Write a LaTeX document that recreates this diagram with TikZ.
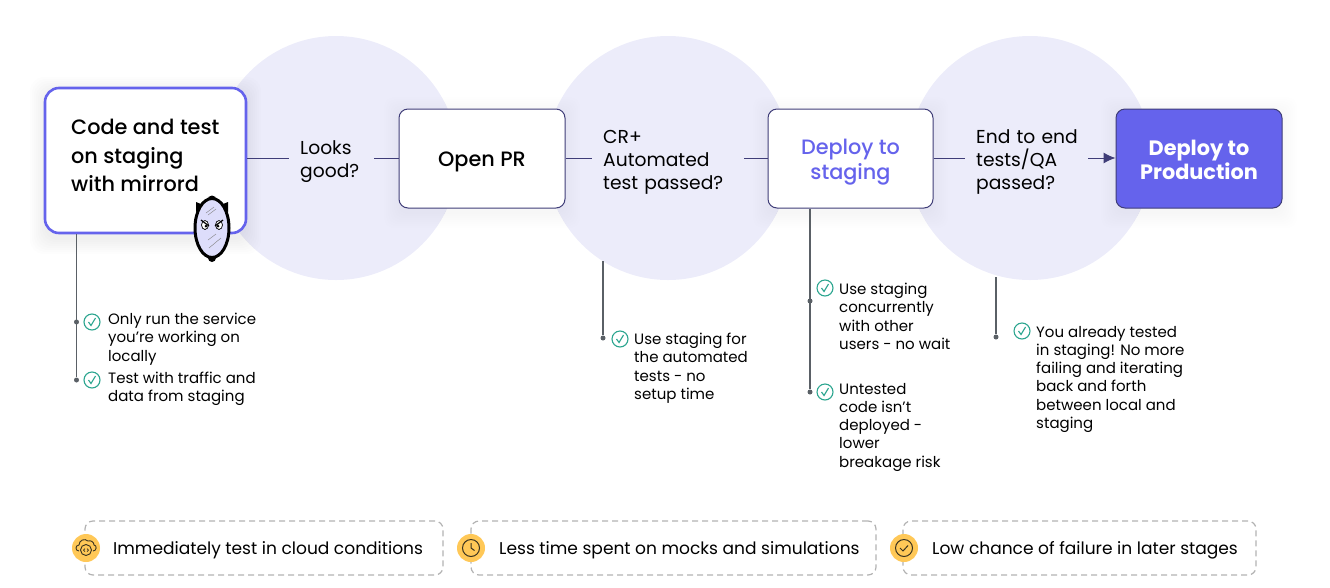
\documentclass[tikz,border=0pt]{standalone}
\usepackage{fontspec}
\setmainfont{Poppins}
\newfontfamily\medfont{Poppins Medium}
\usepackage{tikz}
\usetikzlibrary{arrows.meta, positioning}
\definecolor{blob}{HTML}{ECECFA}
\definecolor{violet}{HTML}{6563EC}
\definecolor{wire}{HTML}{3F3D78}
\definecolor{stem}{HTML}{5A6066}
\definecolor{teal}{HTML}{2BA58F}
\definecolor{amber}{HTML}{FFC857}
\definecolor{ink}{HTML}{3A3320}
\tikzset{
    stagebox/.style={draw=wire, line width=1pt, fill=white, rounded corners=9pt, inner sep=0pt},
    stagetext/.style={align=center, inner sep=0pt, font=\medfont\fontsize{20.8}{25}\selectfont},
    question/.style={anchor=west, align=left, inner xsep=11pt, inner ysep=0pt, font=\fontsize{18.7}{23}\selectfont},
    perk/.style={anchor=north west, align=left, inner sep=0pt, font=\fontsize{15}{18.2}\selectfont},
    stemdot/.style={circle, fill=stem, inner sep=0pt, minimum size=5pt},
    tick/.style={circle, draw=teal, line width=1.1pt, fill=white, inner sep=0pt, minimum size=16pt},
    gain/.style={draw=black!30, line width=1.2pt, dash pattern=on 6pt off 4pt, rounded corners=8pt, inner sep=0pt},
    gainicon/.style={circle, fill=amber, inner sep=0pt, minimum size=28pt},
    gaintext/.style={anchor=west, inner sep=0pt, font=\fontsize{17.05}{21}\selectfont}
}
\begin{document}
\begin{tikzpicture}[x=1pt, y=-1pt]
    \useasboundingbox (0, 0) rectangle (1330, 587);
    % Circles behind the questions
    \foreach \cx in {336, 668, 1030}
        \fill [blob] (\cx, 158) circle (122);
    % Soft shadows
    \foreach \grow in {1, 3, ..., 15} {
        \fill [black, opacity=0.006, rounded corners=14pt] (45-\grow, 92-\grow) rectangle (246+\grow, 239+\grow);
        \fill [black, opacity=0.004, rounded corners=10pt] (399-\grow, 112-\grow) rectangle (565+\grow, 213+\grow);
        \fill [black, opacity=0.004, rounded corners=10pt] (768-\grow, 112-\grow) rectangle (933+\grow, 213+\grow);
        \fill [black, opacity=0.004, rounded corners=10pt] (1116-\grow, 112-\grow) rectangle (1282+\grow, 213+\grow);
    }
    % Stage boxes
    \node [stagebox, draw=violet, line width=2.6pt, rounded corners=14pt, minimum width=201pt, minimum height=145pt] (code) at (145.5, 160.5) {};
    \node [anchor=north west, align=left, inner sep=0pt, font=\medfont\fontsize{20.8}{28.7}\selectfont] (codetext) at (71, 119) {Code and test\\on staging\\with mirrord};
    \node [stagebox, minimum width=166pt, minimum height=99pt] (open) at (482, 158.5) {};
    \node [stagebox, minimum width=165pt, minimum height=99pt] (staging) at (850.5, 158.5) {};
    \node [stagebox, fill=violet, minimum width=166pt, minimum height=99pt] (prod) at (1199, 158.5) {};
    \node [stagetext] (opentext) at (482, 162) {Open PR};
    \node [stagetext, text=violet] (stagingtext) at (850.5, 162) {Deploy to\\staging};
    \node [stagetext, text=white, font=\bfseries\fontsize{20.8}{24}\selectfont] (prodtext) at (1199, 159.5) {Deploy to\\Production};
    % Questions
    \node [question, text width=63pt] (good) at (289, 162) {Looks\\good?};
    \node [question, text width=130pt] (passed) at (592, 162) {CR+\\Automated\\test passed?};
    \node [question, text width=101pt] (qa) at (965, 162) {End~to~end\\tests/QA\\passed?};
    % Lines between the stages
    \draw [wire, line width=1pt] ([yshift=4pt]good.west -| code.east) -- ([yshift=4pt]good.west);
    \draw [wire, line width=1pt] ([yshift=4pt]good.east) -- ([yshift=4pt]good.east -| open.west);
    \draw [wire, line width=1pt] ([yshift=4pt]passed.west -| open.east) -- ([yshift=4pt]passed.west);
    \draw [wire, line width=1pt] ([yshift=4pt]passed.east) -- ([yshift=4pt]passed.east -| staging.west);
    \draw [wire, line width=1pt] ([yshift=4pt]qa.west -| staging.east) -- ([yshift=4pt]qa.west);
    \draw [wire, line width=1pt, -{Latex[length=12pt, width=11pt]}] ([yshift=4pt]qa.east) -- ([yshift=4pt]qa.east -| prod.west);
    % Stems and dots
    \node [stemdot] (dota) at (76.5, 322) {};
    \node [stemdot] (dotb) at (76.5, 380) {};
    \node [stemdot] (dotc) at (603, 338) {};
    \node [stemdot] (dotd) at (810, 301) {};
    \node [stemdot] (dote) at (810, 392) {};
    \node [stemdot] (dotf) at (996, 337) {};
    \coordinate (topc) at (603, 261);
    \coordinate (topf) at (996, 277);
    \draw [stem, line width=1.2pt] (dota |- code.south) -- (dotb);
    \draw [stem, line width=1.2pt] (topc) -- (dotc);
    \draw [stem, line width=1.2pt] (dotd |- staging.south) -- (dote);
    \draw [stem, line width=1.2pt] (topf) -- (dotf);
    % Ticks
    \foreach \tx/\ty in {92/322, 92/380, 620/339, 825/288, 825/392, 1022/331} {
        \node [tick] at (\tx, \ty) {};
        \draw [teal, line width=1.1pt] (\tx-3.5, \ty) -- (\tx-1, \ty+3.5) -- (\tx+3.5, \ty-4);
    }
    % Benefit texts
    \node [perk] (perka) at (108, 313) {Only run the service\\you’re working on\\locally};
    \node [perk] (perkb) at (108, 372) {Test with traffic and\\data from staging};
    \node [perk] (perkc) at (634, 333) {Use staging for\\the automated\\tests - no\\setup time};
    \node [perk] (perkd) at (839, 283) {Use staging\\concurrently\\with other\\users - no wait};
    \node [perk] (perke) at (839, 383) {Untested\\code isn’t\\deployed -\\lower\\breakage risk};
    \node [perk] (perkf) at (1036, 326) {You already tested\\in staging! No more\\failing and iterating\\back and forth\\between local and\\staging};
    % Mirror
    \fill [black] (212, 200) circle (4.5);
    \fill [black] (212, 258) circle (4);
    \fill [black] (196, 202) -- (196, 212) -- (206, 206) -- cycle;
    \fill [black] (228, 202) -- (228, 212) -- (218, 206) -- cycle;
    \draw [black, fill=violet!22, line width=3pt] (212, 228) ellipse (17 and 29.5);
    \draw [black, fill=white, line width=0.7pt] (205, 225) ellipse (3.5 and 4.5);
    \draw [black, fill=white, line width=0.7pt] (219, 225) ellipse (3.5 and 4.5);
    \fill [black] (206, 226) circle (1.5);
    \fill [black] (218, 226) circle (1.5);
    \draw [black, line width=1.2pt] (201, 220) -- (209, 226);
    \draw [black, line width=1.2pt] (223, 220) -- (215, 226);
    \draw [black!50, line width=0.4pt] (206, 213) -- (214, 207);
    \draw [black!50, line width=0.4pt] (208, 215) -- (216, 209);
    \draw [black!50, line width=0.4pt] (208, 240) -- (216, 234);
    \draw [black!50, line width=0.4pt] (209, 248) -- (221, 238);
    % Bottom row
    \node [gain, minimum width=358pt, minimum height=54pt] (gaina) at (264, 548) {};
    \node [gain, minimum width=405pt, minimum height=54pt] (gainb) at (673.5, 548) {};
    \node [gain, minimum width=353pt, minimum height=54pt] (gainc) at (1079.5, 548) {};
    \node [gainicon] (cloud) at (86, 548) {};
    \node [gainicon] (clock) at (471, 548) {};
    \node [gainicon] (done) at (904, 548) {};
    \node [gaintext] (gaintexta) at (113, 550) {Immediately test in cloud conditions};
    \node [gaintext] (gaintextb) at (499, 550) {Less time spent on mocks and simulations};
    \node [gaintext] (gaintextc) at (932, 550) {Low chance of failure in later stages};
    % Cloud icon
    \draw [ink, line width=0.9pt, line join=round] (79, 551) .. controls (75, 551) and (75, 545) .. (79, 545) .. controls (79, 540) and (85, 538) .. (88, 541) .. controls (91, 540) and (94, 542) .. (94, 545) .. controls (97, 545) and (97, 551) .. (93, 551);
    \draw [ink, line width=0.9pt] (86, 550) circle (5.5);
    \draw [ink, line width=0.7pt] (85, 548.5) -- (83.5, 550) -- (85, 551.5) (87, 548.5) -- (88.5, 550) -- (87, 551.5);
    % Clock icon
    \draw [ink, line width=1pt] (471, 548) circle (8.5);
    \draw [ink, line width=1pt] (471, 543) -- (471, 548) -- (474.5, 550.5);
    % Check icon
    \draw [ink, line width=1pt] (904, 548) circle (8.5);
    \draw [ink, line width=1pt] (900, 548) -- (903, 551) -- (908, 545.5);
\end{tikzpicture}
\end{document}
